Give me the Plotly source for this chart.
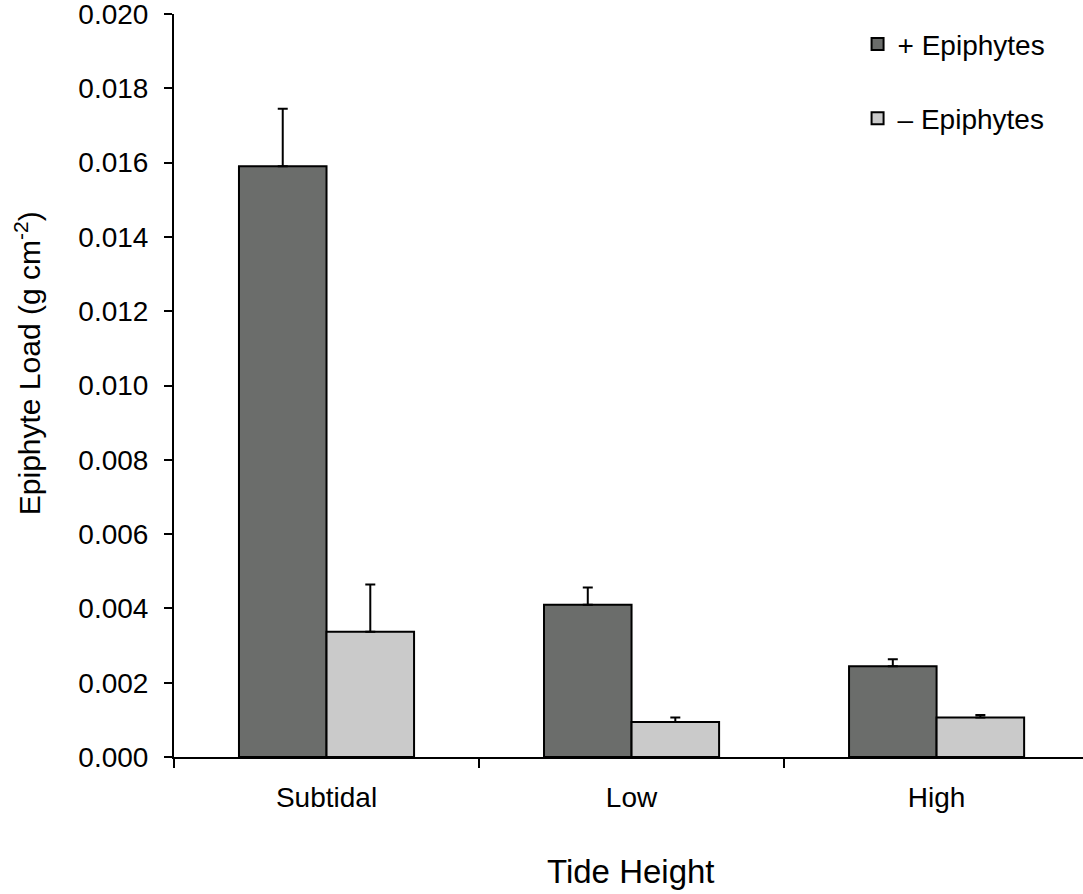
import plotly.graph_objects as go

# Epiphyte load by tide height, with and without epiphytes
tide_heights = ["Subtidal", "Low", "High"]
with_epiphytes = [0.0159, 0.0041, 0.00244]
with_epiphytes_se = [0.00155, 0.00046, 0.00019]
without_epiphytes = [0.00337, 0.00094, 0.00106]
without_epiphytes_se = [0.00127, 0.00012, 0.00007]
y_ticks = [0.000, 0.002, 0.004, 0.006, 0.008, 0.010,
           0.012, 0.014, 0.016, 0.018, 0.020]

FONT = "Arial, Liberation Sans, Helvetica, sans-serif"

fig = go.Figure()

fig.add_trace(go.Bar(
    x=tide_heights, y=with_epiphytes, name="+ Epiphytes",
    legendgroup="plus",
    marker=dict(color="#6b6d6b", line=dict(color="black", width=2)),
    error_y=dict(type="data", array=with_epiphytes_se, symmetric=False,
                 arrayminus=[0, 0, 0], color="black", thickness=2, width=5),
))
fig.add_trace(go.Bar(
    x=tide_heights, y=without_epiphytes, name="\u2013 Epiphytes",
    legendgroup="minus",
    marker=dict(color="#cacaca", line=dict(color="black", width=2)),
    error_y=dict(type="data", array=without_epiphytes_se, symmetric=False,
                 arrayminus=[0, 0, 0], color="black", thickness=2, width=5),
))

fig.update_layout(
    width=1083, height=894,
    margin=dict(l=174, r=0, t=14, b=137),
    paper_bgcolor="white", plot_bgcolor="white",
    barmode="group", bargap=0.426, bargroupgap=0,
    font=dict(family=FONT, color="black", size=28),
    showlegend=True,
    legend=dict(
        x=0.752, y=0.993, xanchor="left", yanchor="top",
        font=dict(size=28, family=FONT, color="black"),
        tracegroupgap=35, bgcolor="rgba(0,0,0,0)",
    ),
    xaxis=dict(
        type="category", range=[-0.5, 2.48],
        showline=True, linecolor="black", linewidth=2,
        ticks="outside", tickson="boundaries", ticklen=9, tickwidth=2,
        tickcolor="black", showgrid=False, zeroline=False,
        tickfont=dict(size=28, family=FONT, color="black"),
        ticklabelstandoff=14,
    ),
    yaxis=dict(
        range=[0, 0.020], tickvals=y_ticks, tickformat=".3f",
        showline=True, linecolor="black", linewidth=2,
        ticks="outside", ticklen=8, tickwidth=2, tickcolor="black",
        showgrid=False, zeroline=False,
        tickfont=dict(size=28, family=FONT, color="black"),
        ticklabelstandoff=10, ticklabeloverflow="allow",
    ),
    annotations=[
        dict(text="Tide Height", xref="paper", yref="paper", x=0.5, y=0,
             xshift=630.5 - (174 + 909 / 2), yshift=-114,
             xanchor="center", yanchor="middle", showarrow=False,
             font=dict(size=33, family=FONT, color="black")),
        dict(text="Epiphyte Load (g cm<sup>-2</sup>)", xref="paper", yref="paper",
             x=0, y=0.53, xshift=-146, textangle=-90,
             xanchor="center", yanchor="middle", showarrow=False,
             font=dict(size=30, family=FONT, color="black")),
    ],
)

fig.write_html("out.html")
